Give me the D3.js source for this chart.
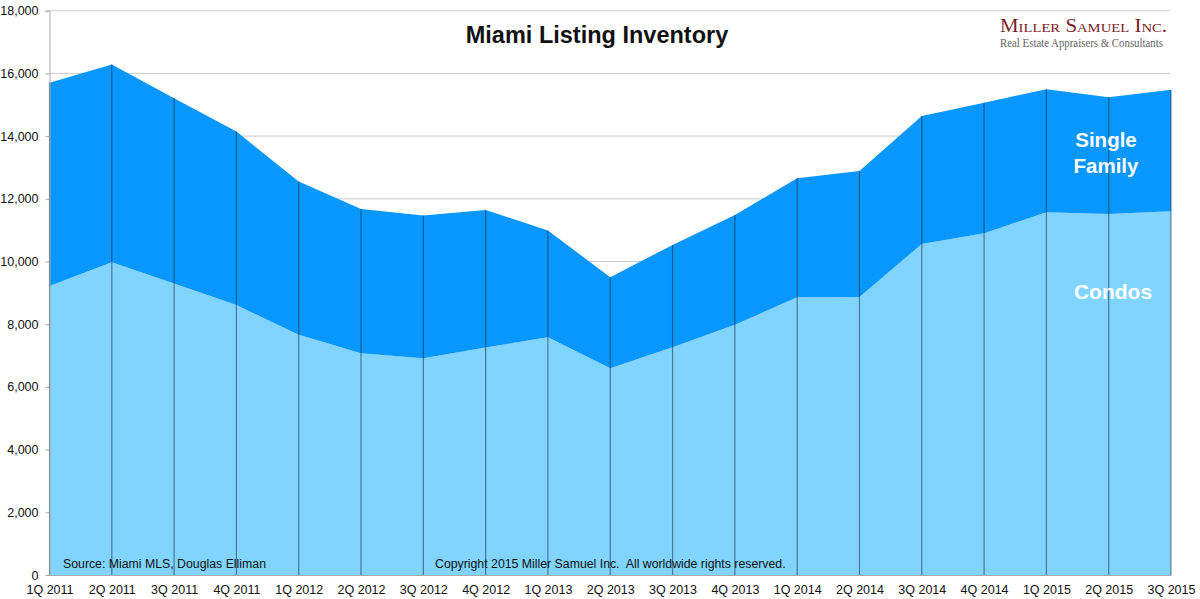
<!DOCTYPE html>
<html>
<head>
<meta charset="utf-8">
<script src="https://cdn.jsdelivr.net/npm/d3@7"></script>
<style>
  body { margin: 0; background: #fff; }
  text { font-family: "Liberation Sans", Arial, sans-serif; }
</style>
</head>
<body>
<div id="chart"></div>
<script>
const quarters = ["1Q 2011", "2Q 2011", "3Q 2011", "4Q 2011", "1Q 2012", "2Q 2012", "3Q 2012", "4Q 2012",
  "1Q 2013", "2Q 2013", "3Q 2013", "4Q 2013", "1Q 2014", "2Q 2014", "3Q 2014", "4Q 2014",
  "1Q 2015", "2Q 2015", "3Q 2015"];
const condos = [9220, 9980, 9300, 8610, 7660, 7075, 6915, 7255, 7585, 6595, 7265, 7980,
  8860, 8870, 10560, 10900, 11570, 11515, 11600];
const singleFamily = [6485, 6300, 5910, 5535, 4890, 4600, 4550, 4390, 3400, 2905, 3265, 3505,
  3795, 4015, 4080, 4165, 3925, 3725, 3875];
const yTicks = [0, 2000, 4000, 6000, 8000, 10000, 12000, 14000, 16000, 18000];

const width = 1200, height = 599;
const plot = { l: 49.5, r: 1171, t: 10.7, b: 575 };

const svg = d3.select("#chart").append("svg")
  .attr("width", width)
  .attr("height", height);

const x = d3.scalePoint().domain(quarters).range([plot.l, plot.r]);
const y = d3.scaleLinear().domain([0, 18000]).range([plot.b, plot.t]);

// gridlines
svg.append("g")
  .selectAll("line")
  .data(yTicks.slice(1))
  .join("line")
  .attr("x1", plot.l).attr("x2", plot.r - 1)
  .attr("y1", d => y(d)).attr("y2", d => y(d))
  .attr("stroke", "#cccccc")
  .attr("stroke-width", 1);

// stacked areas
const rows = quarters.map((q, i) => ({ q: q, condos: condos[i], single: singleFamily[i] }));
const series = d3.stack().keys(["condos", "single"])(rows);
const colors = { condos: "#80d4ff", single: "#0896ff" };

const area = d3.area()
  .x(d => x(d.data.q))
  .y0(d => y(d[0]))
  .y1(d => y(d[1]));

svg.append("g")
  .selectAll("path")
  .data(series)
  .join("path")
  .attr("d", area)
  .attr("fill", d => colors[d.key]);

// vertical drop lines at each quarter
svg.append("g")
  .selectAll("line")
  .data(rows)
  .join("line")
  .attr("x1", d => x(d.q)).attr("x2", d => x(d.q))
  .attr("y1", d => y(d.condos + d.single)).attr("y2", plot.b)
  .attr("stroke", "#1c2b38")
  .attr("stroke-opacity", 0.55)
  .attr("stroke-width", 1.2);

// y axis
const yAxis = d3.axisLeft(y)
  .tickValues(yTicks)
  .tickSize(4)
  .tickPadding(7)
  .tickFormat(d3.format(",d"));

const ya = svg.append("g")
  .attr("transform", "translate(" + plot.l + ",0)")
  .call(yAxis);
ya.select(".domain").attr("stroke", "#aaaaaa");
ya.selectAll(".tick line").attr("stroke", "#aaaaaa");
ya.selectAll(".tick text").attr("font-size", 12.5).attr("fill", "#111")
  .style("font-family", "'Liberation Sans', Arial, sans-serif");

// x axis
const xAxis = d3.axisBottom(x).tickSize(0).tickPadding(10);
const xa = svg.append("g")
  .attr("transform", "translate(0," + plot.b + ")")
  .call(xAxis);
xa.select(".domain").attr("stroke", "#aaaaaa");
xa.selectAll(".tick text").attr("font-size", 12.5).attr("fill", "#111")
  .style("font-family", "'Liberation Sans', Arial, sans-serif");

// title
svg.append("text")
  .attr("x", 597).attr("y", 43)
  .attr("text-anchor", "middle")
  .attr("font-size", 23.5)
  .attr("font-weight", "bold")
  .attr("fill", "#111")
  .text("Miami Listing Inventory");

// series labels
svg.append("text")
  .attr("x", 1106).attr("y", 147)
  .attr("text-anchor", "middle")
  .attr("font-size", 20.5).attr("font-weight", "bold").attr("fill", "#fff")
  .text("Single");
svg.append("text")
  .attr("x", 1106).attr("y", 173)
  .attr("text-anchor", "middle")
  .attr("font-size", 20.5).attr("font-weight", "bold").attr("fill", "#fff")
  .text("Family");
svg.append("text")
  .attr("x", 1113).attr("y", 299)
  .attr("text-anchor", "middle")
  .attr("font-size", 21).attr("font-weight", "bold").attr("fill", "#fff")
  .text("Condos");

// footnotes
svg.append("text")
  .attr("x", 63).attr("y", 568)
  .attr("font-size", 12.3).attr("fill", "#111")
  .text("Source: Miami MLS, Douglas Elliman");
svg.append("text")
  .attr("x", 435).attr("y", 568)
  .attr("font-size", 12.3).attr("fill", "#111")
  .attr("xml:space", "preserve")
  .text("Copyright 2015 Miller Samuel Inc.  All worldwide rights reserved.");

// logo
svg.append("text")
  .attr("x", 1000).attr("y", 32)
  .attr("font-size", 18.5)
  .attr("fill", "#7d1b24")
  .attr("textLength", 167).attr("lengthAdjust", "spacingAndGlyphs")
  .style("font-family", "'Liberation Serif', 'DejaVu Serif', serif")
  .style("font-variant", "small-caps")
  .text("Miller Samuel Inc.");
svg.append("text")
  .attr("x", 1000).attr("y", 47)
  .attr("font-size", 11.5)
  .attr("fill", "#666")
  .attr("textLength", 163).attr("lengthAdjust", "spacingAndGlyphs")
  .style("font-family", "'Liberation Serif', 'DejaVu Serif', serif")
  .text("Real Estate Appraisers & Consultants");
</script>
</body>
</html>
